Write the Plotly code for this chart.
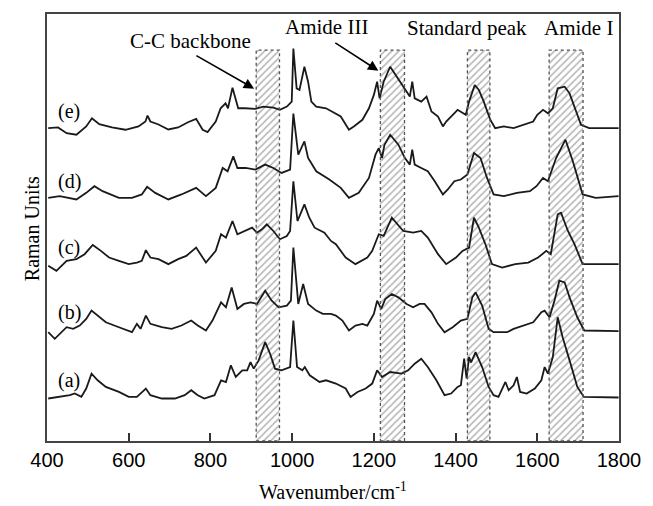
import plotly.graph_objects as go

# ---------------- data ----------------
wn_e = [403,427,448,472,496,510,528,559,592,624,641,646,653,673,697,721,745,765,781,793,813,825,837,843,854,861,868,885,909,930,954,970,987,999,1003,1011,1018,1030,1039,1047,1059,1083,1103,1119,1139,1151,1172,1188,1200,1208,1214,1224,1240,1256,1276,1288,1294,1300,1316,1329,1341,1357,1369,1377,1389,1405,1425,1433,1447,1457,1469,1485,1497,1518,1542,1566,1590,1600,1614,1626,1638,1650,1667,1679,1695,1707,1727,1759,1799]
int_e = [314.3,315,309.3,307.7,316,324.3,318.3,315,312.7,316,321,327,321,318,313,315,320.3,323.7,312.7,310.3,321,334.3,339.3,334.3,355,344.3,334.3,334.3,333.7,336,335,332.7,336,341,394.3,354.3,352.7,376,361,341,336,334.3,329.3,326,312.7,316,322.7,334.3,347.7,361,344.3,361,376,366,352.7,346,361,344.3,341,346,331,326,316,321,326,332.7,327.7,341,357.7,352.7,341,322.7,314.3,316,314.3,317.7,321,327.7,332.7,329.3,334.3,354.3,356,349.3,331,317.7,314.3,314.3,314.3]

wn_d = [403,431,472,496,516,536,576,608,632,645,665,697,729,765,789,813,830,842,856,866,886,910,934,954,974,995,1003,1015,1030,1039,1059,1091,1119,1139,1163,1188,1204,1212,1220,1226,1240,1260,1276,1288,1294,1300,1316,1332,1349,1369,1381,1397,1413,1429,1445,1461,1477,1493,1518,1550,1582,1598,1614,1626,1646,1669,1687,1711,1743,1799]
int_d = [244.3,246,242.7,249.3,256,251,244.3,244.3,247.7,255.3,249.3,242.7,247.7,254.3,246,254.3,274.3,271,286,274.3,274.3,272.7,277.7,274.3,269.3,272.7,329,287.7,301,284.3,271,262.7,254.3,244.3,249.3,264.3,287.7,294.3,284.3,297.7,307.7,297.7,284.3,277.7,292.7,277.7,274.3,271,261,247.7,252.7,261,262.7,267.7,289.3,284.3,264.3,247.7,246,249.3,251,256,264.3,261,284.3,302.7,281,247.7,244.3,246]

wn_c = [403,423,448,472,492,512,532,552,576,600,620,632,642,653,673,697,721,741,765,789,813,826,838,854,866,886,902,914,926,938,954,970,987,995,1003,1013,1030,1042,1055,1079,1095,1107,1131,1155,1168,1184,1196,1212,1224,1244,1272,1296,1316,1332,1357,1377,1401,1417,1433,1445,1457,1473,1489,1514,1546,1578,1602,1622,1633,1650,1658,1675,1691,1711,1739,1771,1799]
int_c = [176,171,181,182.7,187.7,197,191,184.3,181,177.7,179.3,181,191.7,184.3,182.7,177.7,182.7,186,194.3,179.3,191,207.7,204.3,221,207.7,211,214.3,209.3,212.7,217.7,211,202.7,206,211,261,221,237.7,224.3,214.3,209.3,201,197.7,184.3,177.7,181,184.3,191,207.7,206,224.3,211,209.3,211,204.3,187.7,177.7,184.3,191,194.3,224.3,214.3,197.7,177.7,174.3,177.7,179.3,184.3,191,187.7,227.7,229.3,211,197.7,177.7,177.7,177.7,177.7]

wn_b = [403,419,448,464,480,496,509,524,544,576,608,620,629,642,653,681,705,729,753,769,789,805,826,838,852,866,882,898,914,934,950,967,987,997,1003,1015,1027,1039,1059,1075,1095,1107,1123,1139,1155,1172,1184,1200,1208,1218,1228,1244,1260,1280,1296,1312,1324,1341,1357,1373,1393,1413,1429,1441,1449,1465,1481,1493,1526,1542,1566,1590,1610,1618,1630,1642,1654,1667,1679,1698,1715,1743,1799]
int_b = [109.3,102.7,114.3,112.7,116,122.7,131,126,119.3,114.3,109.3,117.7,112.7,126,117.7,114.3,112.7,116,121,116,111,121,139.3,134.3,154.3,132.7,137.7,139.3,137.7,151,141,134.3,136,141,194.3,137.7,157.7,137.7,131,127.7,127.7,126,121,111,116,117.7,116,127.7,141,132.7,142.7,147.7,144.3,137.7,134.3,137.7,137.7,129.3,117.7,109.3,114.3,121,122.7,144.3,149.3,136,112.7,109.3,109.3,112.7,116,119.3,129.3,131,124.3,141,161,159.3,144.3,124.3,111,111,110.3]

wn_a = [403,431,456,468,484,496,509,524,544,576,600,620,629,642,653,681,713,737,753,769,785,810,826,838,850,862,878,890,898,906,918,934,946,958,974,995,1003,1012,1025,1031,1043,1067,1083,1107,1131,1143,1160,1180,1196,1208,1220,1240,1268,1284,1300,1316,1332,1353,1373,1389,1405,1413,1421,1427,1433,1438,1449,1465,1481,1493,1505,1522,1530,1542,1550,1558,1574,1594,1610,1618,1626,1638,1650,1662,1679,1698,1714,1743,1799]
int_a = [42.7,44.3,46,47.7,44.3,52.7,67.7,61,54.3,49.3,44.3,44.3,47.7,52.7,46,42.7,42.7,46,51,46,42.7,46,61,59.3,76,64.3,71,71,79.3,72.7,81,99.3,87.7,72.7,71,74.3,121,74.3,71,74.3,66,59.3,61,57.7,52.7,44.3,49.3,52.7,57.7,71,64.3,69.3,67.7,71,77.7,82.7,74.3,61,46,47.7,54.3,56,82.7,63,84.3,79,89.3,74.3,54.3,46,44.3,59.3,51,56,64.3,49.3,47.7,52.7,61,74.3,67.7,84.3,124.3,104.3,81,54.3,44.3,44.3,43.7]

curve_labels = ["(a)", "(b)", "(c)", "(d)", "(e)"]
curve_label_y = [61, 129, 194, 261, 331]

band_names = ["C-C backbone", "Amide III", "Standard peak", "Amide I"]
band_lo = [912, 1216, 1429, 1629]
band_hi = [969, 1275, 1484, 1712]

x_ticks = [400, 600, 800, 1000, 1200, 1400, 1600, 1800]

# ---------------- figure ----------------
Y_TOP = 429
BAND_TOP = 392.7
fig = go.Figure()

# hatched bands
fig.add_trace(go.Bar(
    x=[(lo + hi) / 2 for lo, hi in zip(band_lo, band_hi)],
    y=[BAND_TOP] * len(band_lo),
    width=[hi - lo for lo, hi in zip(band_lo, band_hi)],
    base=0,
    marker=dict(color="white", line=dict(width=0),
                pattern=dict(shape="/", size=5, solidity=0.3,
                             fgcolor="#6a6a6a", bgcolor="white")),
    showlegend=False, hoverinfo="skip"))

for lo, hi in zip(band_lo, band_hi):
    fig.add_shape(type="rect", xref="x", yref="y", x0=lo, x1=hi, y0=0, y1=BAND_TOP,
                  line=dict(color="#555555", width=1.3, dash="dot"),
                  fillcolor="rgba(0,0,0,0)", layer="above")

for wn, it in [(wn_a, int_a), (wn_b, int_b), (wn_c, int_c), (wn_d, int_d), (wn_e, int_e)]:
    fig.add_trace(go.Scatter(x=wn, y=it, mode="lines",
                             line=dict(color="#1a1a1a", width=1.8),
                             showlegend=False, hoverinfo="skip"))

serif = "Liberation Serif"
ann = []
for lab, yy in zip(curve_labels, curve_label_y):
    ann.append(dict(x=455, y=yy, xref="x", yref="y", text=lab, showarrow=False,
                    font=dict(family=serif, size=20, color="black")))

# band labels
ann.append(dict(x=750, y=402, xref="x", yref="y", text=band_names[0], showarrow=False,
                font=dict(family=serif, size=21, color="black")))
ann.append(dict(x=1085, y=416, xref="x", yref="y", text=band_names[1], showarrow=False,
                font=dict(family=serif, size=21, color="black")))
ann.append(dict(x=1428, y=415, xref="x", yref="y", text=band_names[2], showarrow=False,
                font=dict(family=serif, size=21, color="black")))
ann.append(dict(x=1700, y=415, xref="x", yref="y", text=band_names[3], showarrow=False,
                font=dict(family=serif, size=21, color="black")))

# arrows
ann.append(dict(x=907, y=354, ax=762, ay=388, xref="x", yref="y", axref="x", ayref="y",
                text="", showarrow=True, arrowhead=2, arrowsize=1.3, arrowwidth=1.6,
                arrowcolor="black"))
ann.append(dict(x=1211, y=372, ax=1102, ay=401, xref="x", yref="y", axref="x", ayref="y",
                text="", showarrow=True, arrowhead=2, arrowsize=1.3, arrowwidth=1.6,
                arrowcolor="black"))

# axis titles
ann.append(dict(x=0.5, y=-0.118, xref="paper", yref="paper", yanchor="middle",
                text="Wavenumber/cm<sup>-1</sup>", showarrow=False,
                font=dict(family=serif, size=20, color="black")))
ann.append(dict(x=-0.05, y=0.497, xref="paper", yref="paper", textangle=-90,
                text="Raman Units", showarrow=False,
                font=dict(family=serif, size=20, color="black")))

fig.update_layout(
    width=653, height=506,
    margin=dict(l=47, r=26, t=12, b=65),
    paper_bgcolor="white", plot_bgcolor="white",
    barmode="overlay", bargap=0,
    annotations=ann,
    xaxis=dict(range=[400, 1800], tickvals=x_ticks, ticks="inside", ticklen=8,
               tickwidth=1.5, tickcolor="#333333",
               showline=True, linecolor="#444444", linewidth=1.8, mirror=True,
               showgrid=False, zeroline=False,
               tickfont=dict(family="Liberation Sans", size=20, color="black")),
    yaxis=dict(range=[0, Y_TOP], showticklabels=False, ticks="",
               showline=True, linecolor="#444444", linewidth=1.8, mirror=True,
               showgrid=False, zeroline=False),
)

fig.write_html("out.html")
